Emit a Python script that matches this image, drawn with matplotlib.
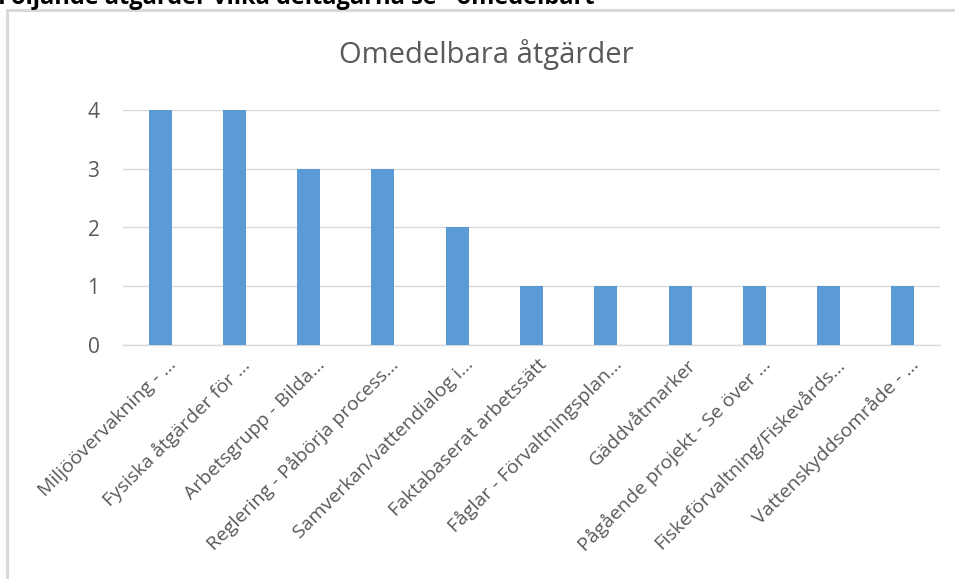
import matplotlib
matplotlib.use('Agg')
import matplotlib.pyplot as plt
from matplotlib.patches import Rectangle
from matplotlib.transforms import ScaledTranslation

categories = [
    'Miljöövervakning - …',
    'Fysiska åtgärder för …',
    'Arbetsgrupp - Bilda…',
    'Reglering - Påbörja process…',
    'Samverkan/vattendialog i…',
    'Faktabaserat arbetssätt',
    'Fåglar - Förvaltningsplan…',
    'Gäddvåtmarker',
    'Pågående projekt - Se över …',
    'Fiskeförvaltning/Fiskevårds…',
    'Vattenskyddsområde - …',
]
values = [4, 4, 3, 3, 2, 1, 1, 1, 1, 1, 1]
yticks = [0, 1, 2, 3, 4]

BAR = '#5b9bd5'
GRID = '#d9d9d9'
TXT = '#595959'

plt.rcParams['font.family'] = ['Open Sans', 'DejaVu Sans']

W, H = 955, 579
fig = plt.figure(figsize=(W / 100, H / 100), dpi=100)

# ram runt diagrammet (fortsätter utanför bilden)
fig.patches.append(Rectangle((7 / W, -0.2), 1.2, 1.2 - 10 / H,
                             transform=fig.transFigure, fill=False,
                             edgecolor=GRID, linewidth=2.2))

# avklippt rubrik ovanför diagrammet
fig.text(-0.002, 1 - 4 / H, 'Följande åtgärder vilka deltagarna se - omedelbart',
         fontsize=17, fontweight='bold', color='black', va='baseline', ha='left')

ax = fig.add_axes([123 / W, 1 - 345 / H, (940 - 123) / W, (345 - 110) / H])
x = range(len(categories))
ax.bar(x, values, width=0.31, color=BAR, zorder=3)

ax.set_xlim(-0.5, len(categories) - 0.5)
ax.set_ylim(0, 4)
ax.set_yticks(yticks)
ax.set_yticklabels([str(v) for v in yticks], fontsize=15, color=TXT)
ax.set_xticks(list(x))
ax.set_xticklabels(categories, rotation=45, ha='right', va='center',
                   rotation_mode='anchor', fontsize=14, color=TXT)
ax.tick_params(axis='both', length=0)
ax.tick_params(axis='y', pad=17)
ax.tick_params(axis='x', pad=0)
shift = ScaledTranslation(13 / 100, -17 / 100, fig.dpi_scale_trans)
for lab in ax.get_xticklabels():
    lab.set_transform(lab.get_transform() + shift)
ax.grid(axis='y', color=GRID, linewidth=1, zorder=0)
for s in ['top', 'right', 'left']:
    ax.spines[s].set_visible(False)
ax.spines['bottom'].set_color(GRID)
ax.spines['bottom'].set_linewidth(1)

fig.text(486 / W, 1 - 55 / H, 'Omedelbara åtgärder', fontsize=21, color=TXT,
         ha='center', va='center')

fig.savefig('out.png', dpi=100)
